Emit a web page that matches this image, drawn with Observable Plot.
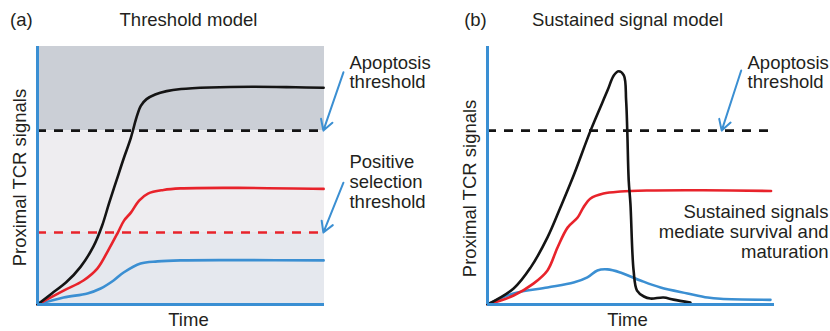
<!DOCTYPE html>
<html><head><meta charset="utf-8">
<script src="https://cdn.jsdelivr.net/npm/d3@7"></script>
<script src="https://cdn.jsdelivr.net/npm/@observablehq/plot@0.6"></script>
<style>
html,body{margin:0;padding:0;background:#fff;}
#wrap{position:relative;width:830px;height:331px;overflow:hidden;}
#wrap svg{position:absolute;top:0;}
</style></head><body><div id="wrap"></div>
<script>
// ---- data (time 0-100, signal 0-100) ----
const panelLetters = ["(a)", "(b)"];
const panelTitles = ["Threshold model", "Sustained signal model"];
const xLabel = "Time";
const yLabel = "Proximal TCR signals";

// Panel (a) thresholds
const apoptosisThresholdA = 67.4;
const positiveThresholdA = 27.9;
// Panel (b) threshold
const apoptosisThresholdB = 67.4;

// Panel (a) curves [time, signal]
const aBlack = [[0,0],[5,4.3],[10,8.6],[15,14.6],[19.5,22.5],[22.5,30.5],[25,39.5],[27.5,48],[30,56.5],[32.5,64.5],[34.5,72.5],[36,77],[38,79.6],[41,81.4],[45,82.7],[50,83.5],[60,84.1],[75,84.4],[90,84.2],[99.7,84.0]];
const aRed = [[0,0],[9.1,5.4],[16.0,9.3],[20.9,14.0],[24.6,20.9],[28.0,27.9],[30.2,32.6],[32.6,35.7],[35.4,40.3],[38.5,43.0],[43.9,44.4],[49.8,45.0],[70,45.2],[99.7,44.8]];
const aBlue = [[0,0],[9.1,2.7],[17.4,4.3],[22.0,6.2],[26.5,9.3],[30.0,12.4],[35.9,15.9],[41.8,16.7],[49.8,17.1],[70,17.2],[99.7,17.1]];

// Panel (b) curves [time, signal]
const bBlack = [[0,0],[9.1,6.2],[15.0,14.3],[20.9,26.0],[25.4,37.6],[30.0,50.0],[35.9,67.4],[41.8,82.9],[44.0,88.8],[45.7,90.4],[47.5,88.8],[48.3,79.1],[48.7,67.4],[49.2,48.1],[49.8,39.1],[50.9,13.2],[52.1,5.4],[54.5,3.1],[56.8,2.3],[61.3,2.7],[64.8,1.9],[70.7,0.8]];
const bRed = [[0,0],[9.1,3.5],[16.0,8.1],[20.9,13.2],[24.4,22.1],[27.9,29.8],[31.4,33.7],[33.4,37.6],[35.9,41.1],[40.4,43.0],[46.3,43.8],[55.7,44.2],[75,44.3],[98.8,44.0]];
const bBlue = [[0,0],[9.1,4.3],[20.9,6.6],[30.0,8.5],[34.8,10.5],[38.3,13.2],[41.8,13.6],[46.3,12.4],[53.3,9.3],[60.3,6.6],[69.7,4.3],[76.7,2.7],[81.2,2.2],[98.6,1.8]];

// annotations
const annotA = ["Apoptosis\nthreshold", "Positive\nselection\nthreshold"];
const annotB = ["Apoptosis\nthreshold", "Sustained signals\nmediate survival and\nmaturation"];

// ---- styling ----
const TXT = "#231f20";
const AXIS = "#3a8fd3";
const BLK = "#141414", RED = "#e8232b", BLU = "#3b8fd2";
const FS = 18.5;
const font = "'Liberation Sans', Arial, Helvetica, sans-serif";

function base(marginLeft, marginRight) {
  return {
    width: 415, height: 331,
    marginLeft, marginRight, marginTop: 46, marginBottom: 27,
    x: {domain: [0, 100], axis: null},
    y: {domain: [0, 100], axis: null},
    style: {overflow: "visible", background: "transparent", fontFamily: font}
  };
}
const lineOpts = (stroke) => ({x: d => d[0], y: d => d[1], stroke, strokeWidth: 2.6, curve: "catmull-rom"});
const txt = (t, x, y, extra = {}) => Plot.text([t], {x: () => x, y: () => y, text: d => d, fontSize: FS, fill: TXT, ...extra});

// ---- Panel (a) ----
const plotA = Plot.plot({
  ...base(37, 91),
  marks: [
    Plot.rect([0], {x1: 0, x2: 100, y1: apoptosisThresholdA, y2: 100, fill: "#cbcfd6"}),
    Plot.rect([0], {x1: 0, x2: 100, y1: positiveThresholdA, y2: apoptosisThresholdA, fill: "#eeedf0"}),
    Plot.rect([0], {x1: 0, x2: 100, y1: 0, y2: positiveThresholdA, fill: "#e5e8ee"}),
    Plot.ruleY([apoptosisThresholdA], {x1: 0, x2: 99.3, stroke: BLK, strokeWidth: 2.6, strokeDasharray: "9,8"}),
    Plot.ruleY([positiveThresholdA], {x1: 0, x2: 99.3, stroke: RED, strokeWidth: 2.6, strokeDasharray: "9,8"}),
    Plot.line(aBlue, lineOpts(BLU)),
    Plot.line(aRed, lineOpts(RED)),
    Plot.line(aBlack, lineOpts(BLK)),
    Plot.ruleX([0], {y1: 0, y2: 100, stroke: AXIS, strokeWidth: 3}),
    Plot.ruleY([0], {x1: 0, x2: 100, stroke: AXIS, strokeWidth: 3}),
    Plot.arrow([0], {x1: 106.6, y1: 90.0, x2: 99.6, y2: apoptosisThresholdA, stroke: BLU, strokeWidth: 2, headLength: 9}),
    Plot.arrow([0], {x1: 106.6, y1: 47.2, x2: 99.6, y2: positiveThresholdA, stroke: BLU, strokeWidth: 2, headLength: 9}),
    txt(panelLetters[0], -5.6, 110.2),
    txt(panelTitles[0], 52.6, 110.2),
    txt(xLabel, 52.6, -6.0),
    txt(yLabel, -6.0, 49.2, {rotate: -90}),
    txt(annotA[0], 108.7, 90.0, {textAnchor: "start", lineHeight: 1.06}),
    txt(annotA[1], 108.7, 47.5, {textAnchor: "start", lineHeight: 1.08})
  ]
});
plotA.style.left = "0px";

// ---- Panel (b) ----
const plotB = Plot.plot({
  ...base(72, 56),
  marks: [
    Plot.ruleY([apoptosisThresholdB], {x1: 0, x2: 99.7, stroke: BLK, strokeWidth: 2.6, strokeDasharray: "9,8"}),
    Plot.line(bBlue, lineOpts(BLU)),
    Plot.line(bRed, lineOpts(RED)),
    Plot.line(bBlack, lineOpts(BLK)),
    Plot.ruleX([0], {y1: 0, y2: 100, stroke: AXIS, strokeWidth: 3}),
    Plot.ruleY([0], {x1: 0, x2: 100, stroke: AXIS, strokeWidth: 3}),
    Plot.arrow([0], {x1: 88.4, y1: 90.7, x2: 81.6, y2: apoptosisThresholdB, stroke: BLU, strokeWidth: 2, headLength: 9}),
    txt(panelLetters[1], -4.2, 110.2),
    txt(panelTitles[1], 48.8, 110.2),
    txt(xLabel, 48.8, -6.0),
    txt(yLabel, -6.0, 45.0, {rotate: -90}),
    txt(annotB[0], 90.6, 90.0, {textAnchor: "start", lineHeight: 1.06}),
    txt(annotB[1], 118.8, 28.3, {textAnchor: "end", lineHeight: 1.08})
  ]
});
plotB.style.left = "415px";

document.getElementById("wrap").append(plotA, plotB);
</script></body></html>
